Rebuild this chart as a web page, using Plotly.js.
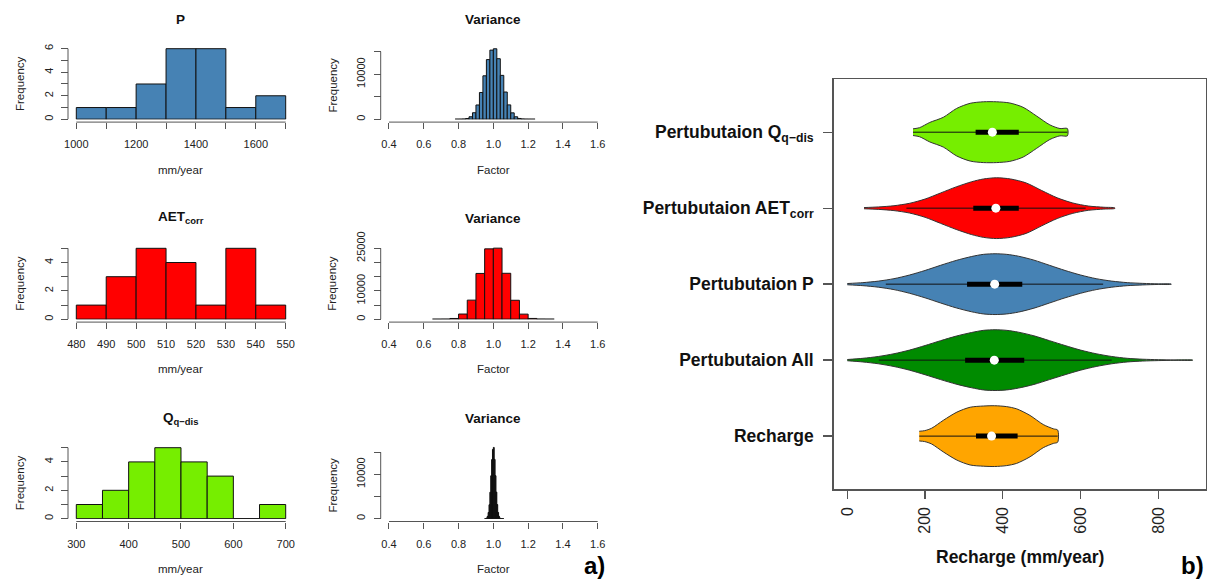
<!DOCTYPE html>
<html><head><meta charset="utf-8">
<script src="https://cdn.plot.ly/plotly-3.0.1.min.js"></script>
<style>html,body{margin:0;padding:0;background:#fff}#chart{width:1208px;height:580px}</style>
</head><body><div id="chart"></div>
<script>
// ---------------- data: histograms (bin edges + counts) ----------------
const pBreaks   = [1000,1100,1200,1300,1400,1500,1600,1700];
const pCounts   = [1,1,3,6,6,1,2];
const aetBreaks = [480,490,500,510,520,530,540,550];
const aetCounts = [1,3,5,4,1,5,1];
const qBreaks   = [300,350,400,450,500,550,600,650,700];
const qCounts   = [1,2,4,5,4,3,0,1];

const varPBreaks = [0.78,0.80,0.82,0.84,0.86,0.88,0.90,0.92,0.94,0.96,0.98,1.00,1.02,1.04,1.06,1.08,1.10,1.12,1.14,1.16,1.18,1.20,1.22,1.24];
const varPCounts = [4,14,52,175,560,1460,3180,5950,9650,13250,15350,15650,13450,9750,6050,3200,1430,560,185,60,18,6,2];
const varAETBreaks = [0.65,0.70,0.75,0.80,0.85,0.90,0.95,1.00,1.05,1.10,1.15,1.20,1.25,1.30,1.35];
const varAETCounts = [3,30,290,1850,6750,16150,24800,25050,16200,6700,1820,300,35,4];
const varQBreaks = [0.950,0.955,0.960,0.965,0.970,0.975,0.980,0.985,0.990,0.995,1.000,1.005,1.010,1.015,1.020,1.025,1.030,1.035,1.040,1.045,1.050,1.055,1.060];
const varQCounts = [12,48,175,540,1410,3160,5980,9700,13350,15650,16100,13400,9720,6010,3190,1420,550,180,50,13,3,1];

// tick labels
const pTicks = [1000,1100,1200,1300,1400,1500,1600,1700];
const pTickText = ['1000','','1200','','1400','','1600',''];
const aetTicks = [480,490,500,510,520,530,540,550];
const aetTickText = ['480','490','500','510','520','530','540','550'];
const qTicks = [300,400,500,600,700];
const qTickText = ['300','400','500','600','700'];
const varTicks = [0.4,0.6,0.8,1.0,1.2,1.4,1.6];
const varTickText = ['0.4','0.6','0.8','1.0','1.2','1.4','1.6'];
const freq6Ticks = [0,1,2,3,4,5,6];
const freq6Text = ['0','','2','','4','','6'];
const freq5Ticks = [0,1,2,3,4,5];
const freq5Text = ['0','','2','','4',''];
const var15Ticks = [0,5000,10000,15000];
const var15Text = ['0','','10000',''];
const var25Ticks = [0,5000,10000,15000,20000,25000];
const var25Text = ['0','','10000','','','25000'];

// ---------------- data: violins (Recharge, mm/year) ----------------
const violinNames = ['Recharge','Pertubutaion All','Pertubutaion P','Pertubutaion AET<sub>corr</sub>','Pertubutaion Q<sub>q\u2212dis</sub>'];
const violinColors = ['#FFA500','#008B00','#4682B4','#FF0000','#76EE00'];
// outline: x positions and relative half-width
const rechX = [185,199,217,247,282,316,350,379,410,435,470,504,530,541];
const rechW = [0.16,0.18,0.26,0.52,0.79,0.95,0.99,1.0,0.97,0.90,0.68,0.38,0.24,0.20];
const allX = [0,40,80,120,160,200,240,280,320,350,380,410,440,480,520,560,600,640,680,720,760,800,840,888];
const allW = [0.02,0.06,0.12,0.21,0.33,0.48,0.64,0.79,0.91,0.98,1.0,0.98,0.92,0.80,0.64,0.48,0.33,0.21,0.12,0.06,0.03,0.015,0.007,0.003];
const pvX = [0,40,80,120,160,200,240,280,320,350,380,410,440,480,520,560,600,640,680,720,760,800,833];
const pvW = [0.02,0.05,0.10,0.18,0.30,0.45,0.62,0.78,0.91,0.98,1.0,0.98,0.92,0.79,0.62,0.45,0.30,0.18,0.10,0.05,0.025,0.01,0.005];
const aetvX = [43,80,120,160,200,240,280,320,350,384,420,460,500,540,580,620,660,688];
const aetvW = [0.02,0.04,0.08,0.16,0.30,0.50,0.70,0.87,0.96,1.0,0.96,0.83,0.58,0.34,0.17,0.07,0.03,0.01];
const qvX = [169,186,212,247,281,316,350,384,418,452,487,521,547,566];
const qvW = [0.11,0.15,0.32,0.49,0.78,0.95,1.0,1.0,0.96,0.82,0.53,0.24,0.12,0.12];
// whisker low/high, Q1, Q3, median  (order: Recharge, All, P, AET, Q)
const whiskLo = [185,81,99,152,169];
const whiskHi = [541,680,658,613,566];
const boxQ1   = [331,303,308,324,330];
const boxQ3   = [438,455,450,441,441];
const medians = [371,378,379,382,373];
const violinTicks = [0,200,400,600,800];

// ---------------- build ----------------
const W=1208,H=580;
const px=v=>v/W, py=v=>1-v/H;
const FONT='Liberation Sans, Arial, Helvetica, sans-serif';
const AX='#555', TXT='#222';
const traces=[], shapes=[], annotations=[];
const layout={width:W,height:H,margin:{l:0,r:0,t:0,b:0},paper_bgcolor:'#fff',plot_bgcolor:'rgba(0,0,0,0)',
  showlegend:false,font:{family:FONT,color:TXT},barmode:'overlay'};

function addHist(n, breaks, counts, color, cfg){
  const xa='x'+n, ya='y'+n;
  const centers=[], widths=[];
  for(let i=0;i<counts.length;i++){centers.push((breaks[i]+breaks[i+1])/2);widths.push(breaks[i+1]-breaks[i]);}
  traces.push({type:'bar',x:centers,y:counts,width:widths,marker:{color:color,line:{color:'#111',width:1}},
    xaxis:xa,yaxis:ya,hoverinfo:'skip'});
  traces.push({type:'scatter',mode:'lines',x:[breaks[0],breaks[breaks.length-1]],y:[0,0],
    line:{color:'#111',width:1},xaxis:xa,yaxis:ya,hoverinfo:'skip'});
  const t0=cfg.xTicks[0], t1=cfg.xTicks[cfg.xTicks.length-1];
  const kx=(cfg.xLastPx-cfg.xFirstPx)/(t1-t0);
  const ext=(t1-t0)*0.012;
  const yTop=cfg.yTicks[cfg.yTicks.length-1];
  const ky=(cfg.y0px-cfg.yTopPx)/yTop;
  const yMax=Math.max(yTop,Math.max.apply(null,counts))*1.02;
  layout['xaxis'+n]={domain:[px(cfg.xFirstPx-ext*kx),px(cfg.xLastPx+ext*kx)],range:[t0-ext,t1+ext],
    anchor:'free',position:py(cfg.xAxisPx),showline:false,ticks:'outside',ticklen:6,tickwidth:1,tickcolor:AX,
    tickvals:cfg.xTicks,ticktext:cfg.xText,tickfont:{size:11,color:TXT,family:FONT},showgrid:false,zeroline:false,
    ticklabelstandoff:6};
  layout['yaxis'+n]={domain:[py(cfg.y0px),py(cfg.y0px-yMax*ky)],range:[0,yMax],
    anchor:'free',position:px(cfg.yAxisPx),showline:false,ticks:'outside',ticklen:7,tickwidth:1,tickcolor:AX,
    tickvals:cfg.yTicks,ticktext:cfg.yText,tickangle:-90,tickfont:{size:11,color:TXT,family:FONT},
    showgrid:false,zeroline:false,ticklabelstandoff:4};
  shapes.push({type:'line',xref:xa,yref:'paper',x0:t0,x1:t1,y0:py(cfg.xAxisPx),y1:py(cfg.xAxisPx),line:{color:AX,width:1}});
  shapes.push({type:'line',xref:'paper',yref:ya,x0:px(cfg.yAxisPx),x1:px(cfg.yAxisPx),y0:0,y1:yTop,line:{color:AX,width:1}});
  const cx=(cfg.xFirstPx+cfg.xLastPx)/2, cy=(cfg.y0px+cfg.yTopPx)/2;
  annotations.push({xref:'paper',yref:'paper',x:px(cx),y:py(cfg.titlePx),text:cfg.title,showarrow:false,
    xanchor:'center',yanchor:'middle',font:{size:13.5,weight:'bold',color:'#111',family:FONT}});
  annotations.push({xref:'paper',yref:'paper',x:px(cx),y:py(cfg.xlabPx),text:cfg.xlab,showarrow:false,
    xanchor:'center',yanchor:'middle',font:{size:11.5,color:TXT,family:FONT}});
  annotations.push({xref:'paper',yref:'paper',x:px(cfg.ylabX),y:py(cy),text:'Frequency',textangle:-90,showarrow:false,
    xanchor:'center',yanchor:'middle',font:{size:11.5,color:TXT,family:FONT}});
}

const col1={xFirstPx:76.3,xLastPx:285.7,yAxisPx:68,ylabX:20};
const col2={xFirstPx:389,xLastPx:597.7,yAxisPx:380.7,ylabX:332,xTicks:varTicks,xText:varTickText,xlab:'Factor',title:'Variance'};
addHist(1,pBreaks,pCounts,'#4682B4',Object.assign({},col1,{xTicks:pTicks,xText:pTickText,y0px:119.3,yTopPx:48.7,
  yTicks:freq6Ticks,yText:freq6Text,xAxisPx:122.1,title:'P',titlePx:19,xlab:'mm/year',xlabPx:170}));
addHist(2,varPBreaks,varPCounts,'#4682B4',Object.assign({},col2,{y0px:119.3,yTopPx:51.7,
  yTicks:var15Ticks,yText:var15Text,xAxisPx:122.1,titlePx:19,xlabPx:170}));
addHist(3,aetBreaks,aetCounts,'#FF0000',Object.assign({},col1,{xTicks:aetTicks,xText:aetTickText,y0px:319.3,yTopPx:248.3,
  yTicks:freq5Ticks,yText:freq5Text,xAxisPx:322.1,title:'AET<sub>corr</sub>',titlePx:218,xlab:'mm/year',xlabPx:369}));
addHist(4,varAETBreaks,varAETCounts,'#FF0000',Object.assign({},col2,{y0px:319.3,yTopPx:248.3,
  yTicks:var25Ticks,yText:var25Text,xAxisPx:322.1,titlePx:219,xlabPx:369}));
addHist(5,qBreaks,qCounts,'#76EE00',Object.assign({},col1,{xTicks:qTicks,xText:qTickText,y0px:518.7,yTopPx:447.7,
  yTicks:freq5Ticks,yText:freq5Text,xAxisPx:521.5,title:'Q<sub>q\u2212dis</sub>',titlePx:419,xlab:'mm/year',xlabPx:569}));
addHist(6,varQBreaks,varQCounts,'#111111',Object.assign({},col2,{y0px:518.7,yTopPx:452.3,
  yTicks:var15Ticks,yText:var15Text,xAxisPx:521.5,titlePx:418,xlabPx:569}));

// ---------------- violin panel ----------------
const outlinesX=[rechX,allX,pvX,aetvX,qvX], outlinesW=[rechW,allW,pvW,aetvW,qvW];
const HALF=0.4;
for(let i=0;i<5;i++){
  const pos=i+1, xs=outlinesX[i], ws=outlinesW[i];
  const upY=ws.map(w=>pos+w*HALF), loY=ws.map(w=>pos-w*HALF);
  traces.push({type:'scatter',mode:'lines',x:xs.concat(xs.slice().reverse()),y:upY.concat(loY.slice().reverse()),
    fill:'toself',fillcolor:violinColors[i],line:{color:'#333',width:1,shape:'spline',smoothing:0.8},
    xaxis:'x7',yaxis:'y7',hoverinfo:'skip'});
  traces.push({type:'scatter',mode:'lines',x:[whiskLo[i],whiskHi[i]],y:[pos,pos],line:{color:'#111',width:1},
    xaxis:'x7',yaxis:'y7',hoverinfo:'skip'});
  traces.push({type:'scatter',mode:'lines',x:[boxQ1[i],boxQ3[i]],y:[pos,pos],line:{color:'#000',width:5},
    xaxis:'x7',yaxis:'y7',hoverinfo:'skip'});
  traces.push({type:'scatter',mode:'markers',x:[medians[i]],y:[pos],marker:{color:'#fff',size:9,line:{width:0}},
    xaxis:'x7',yaxis:'y7',hoverinfo:'skip'});
}
layout.xaxis7={domain:[px(833.5),px(1206)],range:[-35.5,922.5],anchor:'y7',showline:true,mirror:true,linecolor:AX,linewidth:1.3,
  ticks:'outside',ticklen:8,tickcolor:AX,tickwidth:1.3,tickvals:violinTicks,ticktext:violinTicks.map(String),tickangle:-90,
  tickfont:{size:16,color:TXT,family:FONT},showgrid:false,zeroline:false,ticklabelstandoff:2};
layout.yaxis7={domain:[py(489.3),py(79)],range:[0.3,5.7],anchor:'x7',showline:true,mirror:true,linecolor:AX,linewidth:1.3,
  ticks:'outside',ticklen:9,tickcolor:AX,tickwidth:1.3,tickvals:[1,2,3,4,5],ticktext:violinNames,
  tickfont:{size:17.5,weight:'bold',color:'#111',family:FONT},showgrid:false,zeroline:false,ticklabelstandoff:6};
annotations.push({xref:'paper',yref:'paper',x:px(1019.7),y:py(557),text:'Recharge (mm/year)',showarrow:false,
  xanchor:'center',yanchor:'middle',font:{size:17.5,weight:'bold',color:'#111',family:FONT}});
annotations.push({xref:'paper',yref:'paper',x:px(594),y:0,text:'a)',showarrow:false,borderpad:0,
  xanchor:'center',yanchor:'bottom',font:{size:24,weight:'bold',color:'#000',family:FONT}});
annotations.push({xref:'paper',yref:'paper',x:px(1192),y:0,text:'b)',showarrow:false,borderpad:0,
  xanchor:'center',yanchor:'bottom',font:{size:24,weight:'bold',color:'#000',family:FONT}});

layout.shapes=shapes; layout.annotations=annotations;
Plotly.newPlot('chart',traces,layout,{staticPlot:true,displayModeBar:false});
</script></body></html>
